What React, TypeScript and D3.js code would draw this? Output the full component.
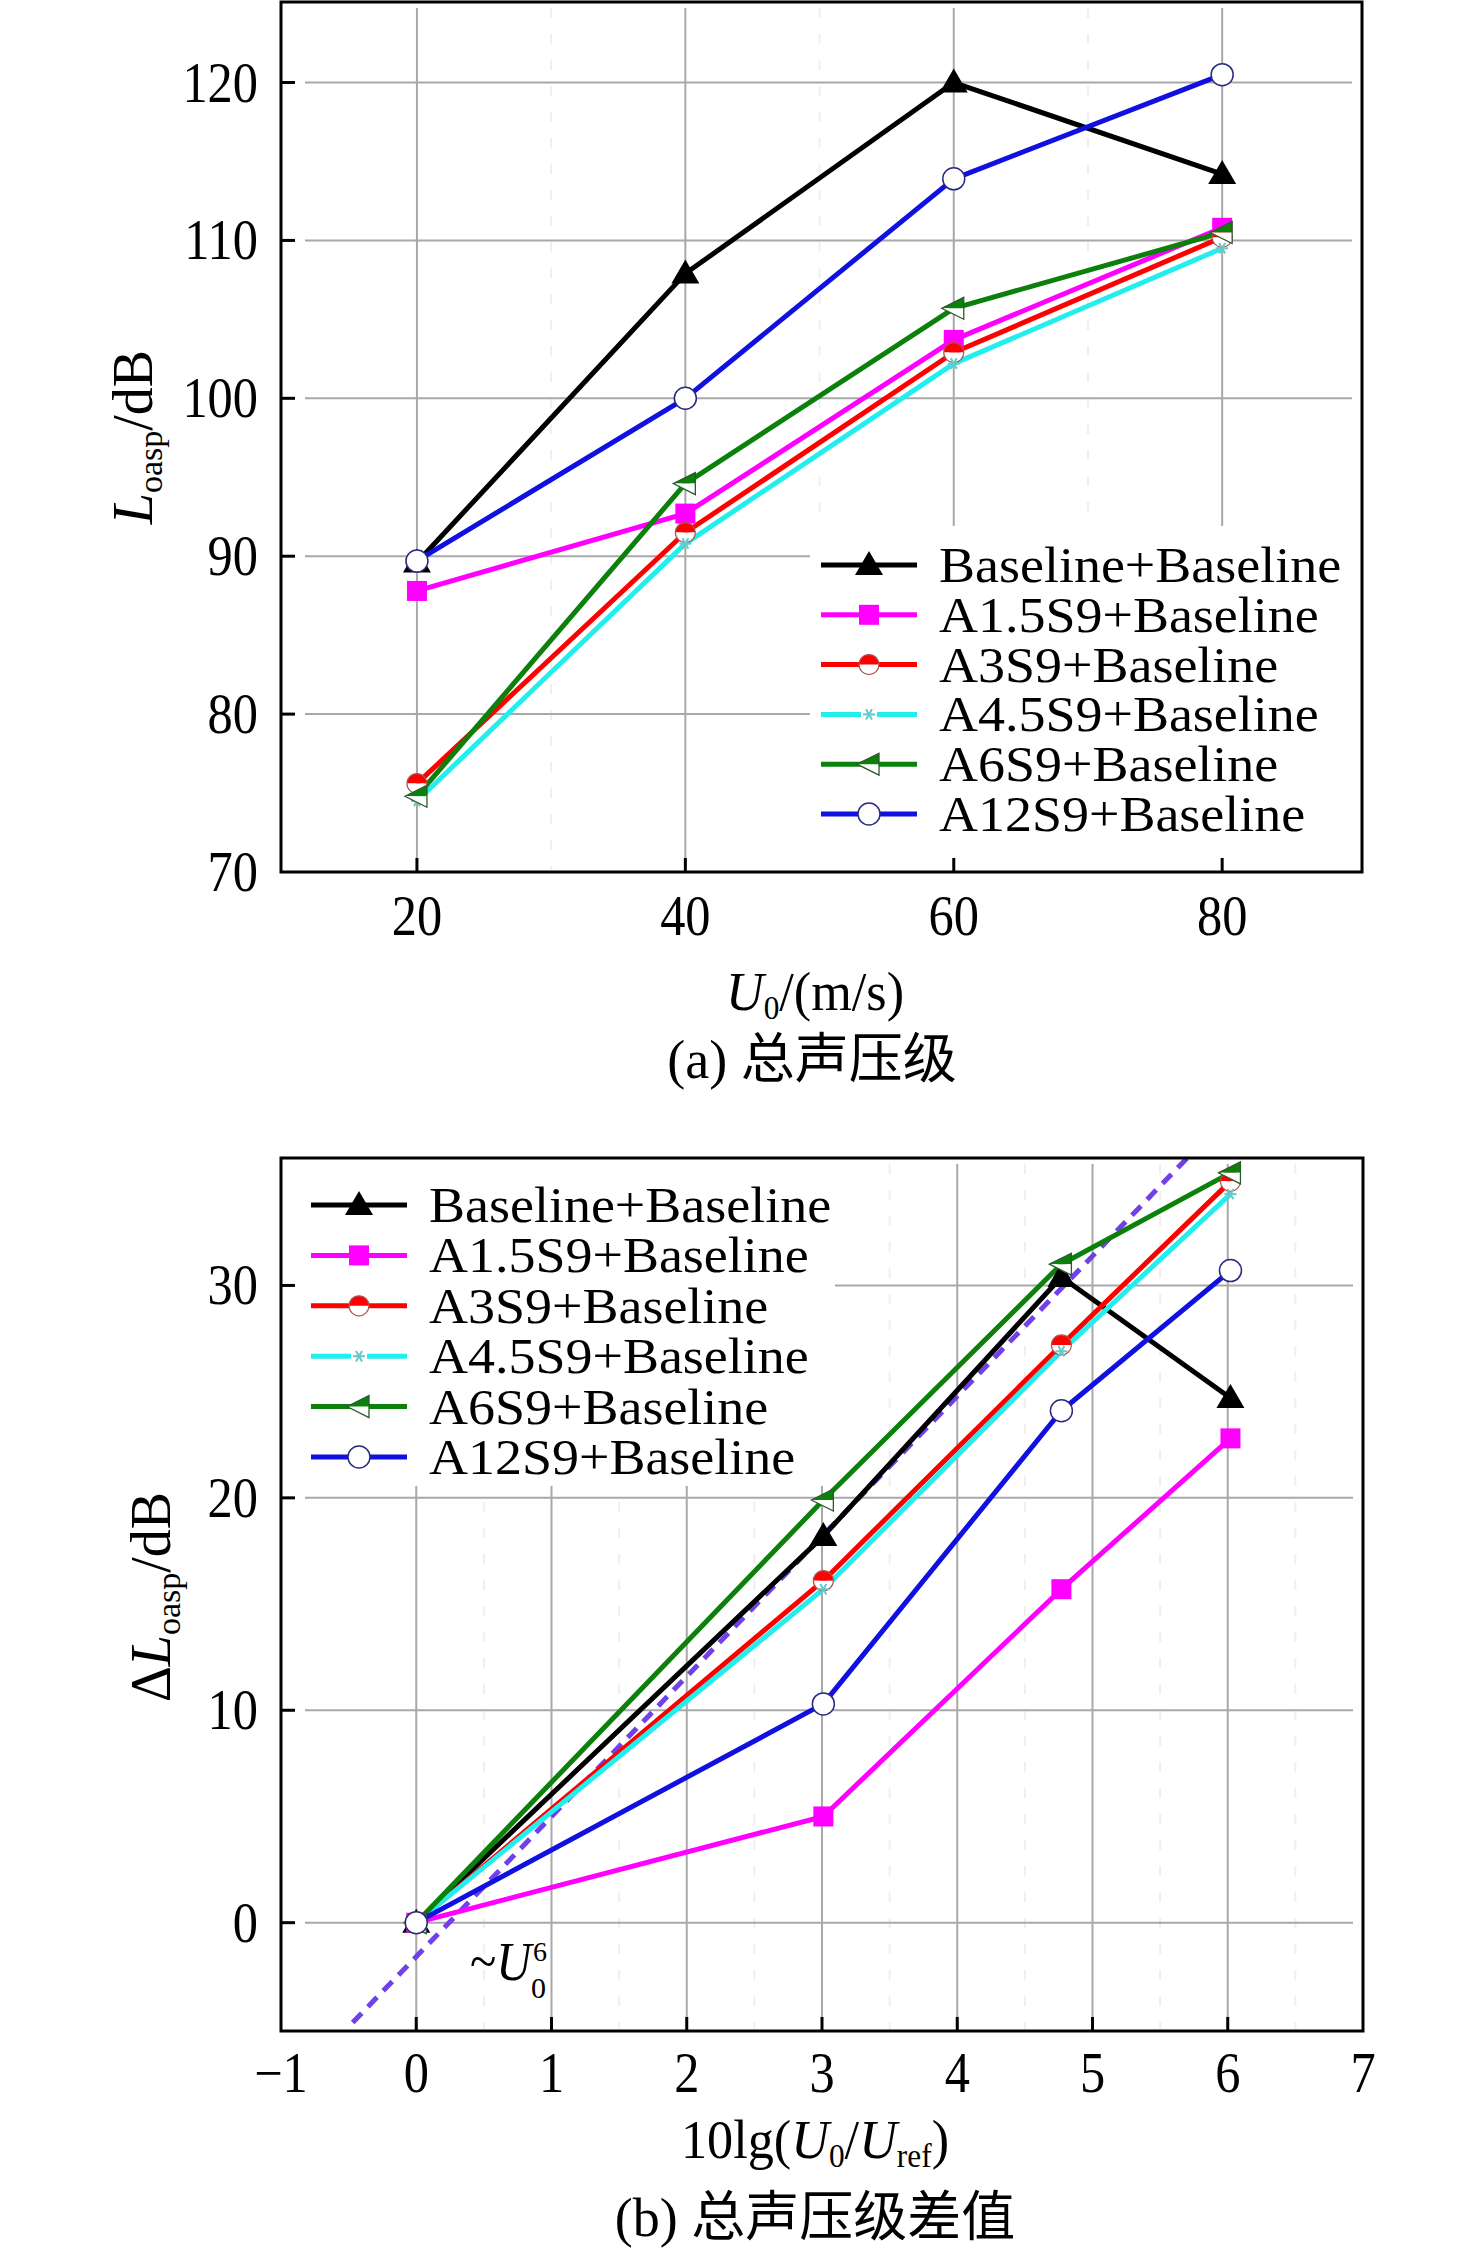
import React from 'react';
import * as d3 from 'd3';

// ---------- data ----------
const seriesNames = [
  'Baseline+Baseline',
  'A1.5S9+Baseline',
  'A3S9+Baseline',
  'A4.5S9+Baseline',
  'A6S9+Baseline',
  'A12S9+Baseline',
];
const seriesColors = ['#000000', '#ff00ff', '#ff0000', '#22eeee', '#0b800b', '#1010e0'];
const markerKinds = ['triangle', 'square', 'halfCircle', 'star', 'leftTriangle', 'circle'];

// panel (a): overall sound pressure level vs speed
const speeds = [20, 40, 60, 80];
const levelBaseline = [89.6, 107.9, 120.0, 114.2];
const levelA15 = [87.8, 92.7, 103.7, 110.8];
const levelA3 = [75.6, 91.5, 102.9, 110.2];
const levelA45 = [74.5, 90.8, 102.2, 109.5];
const levelA6 = [74.8, 94.6, 105.7, 110.5];
const levelA12 = [89.7, 100.0, 113.9, 120.5];
const levelSeries = [levelBaseline, levelA15, levelA3, levelA45, levelA6, levelA12];

// panel (b): level difference vs 10lg(U0/Uref)
const logSpeed = [0, 3.01, 4.77, 6.02];
const deltaBaseline = [0, 18.2, 30.4, 24.7];
const deltaA15 = [0, 5.0, 15.7, 22.8];
const deltaA3 = [0, 16.1, 27.2, 34.9];
const deltaA45 = [0, 15.7, 26.9, 34.3];
const deltaA6 = [0, 19.9, 31.0, 35.3];
const deltaA12 = [0, 10.3, 24.1, 30.7];
const deltaSeries = [deltaBaseline, deltaA15, deltaA3, deltaA45, deltaA6, deltaA12];

// ~U0^6 reference line
const u6X = [-0.47, 5.7];
const u6Y = [-4.7, 36.0];

// ticks
const xTicksA = [20, 40, 60, 80];
const yTicksA = [70, 80, 90, 100, 110, 120];
const xMinorA = [30, 50, 70];
const xTicksB = [-1, 0, 1, 2, 3, 4, 5, 6, 7];
const yTicksB = [0, 10, 20, 30];
const xMinorB = [0.5, 1.5, 2.5, 3.5, 4.5, 5.5, 6.5];

const SERIF = "'Liberation Serif', 'Times New Roman', serif";
const CAPFONT = "'Liberation Serif', 'Noto Sans CJK SC', serif";

function Marker({ kind, x, y, color }: { kind: string; x: number; y: number; color: string }) {
  switch (kind) {
    case 'triangle':
      return <path d={`M${x},${y - 14} L${x + 14},${y + 10} L${x - 14},${y + 10} Z`} fill={color} />;
    case 'square':
      return <rect x={x - 10} y={y - 10} width={20} height={20} fill={color} />;
    case 'halfCircle':
      return (
        <g>
          <path d={`M${x - 10},${y} A10,10 0 0 1 ${x + 10},${y} Z`} fill={color} />
          <path d={`M${x - 10},${y} A10,10 0 0 0 ${x + 10},${y} Z`} fill="#ffffff" />
          <circle cx={x} cy={y} r={10} fill="none" stroke="#b05050" strokeWidth={1.2} />
        </g>
      );
    case 'star': {
      const r = 6;
      return (
        <g stroke="#66c8c8" strokeWidth={2}>
          <line x1={x - r} y1={y} x2={x + r} y2={y} />
          <line x1={x - r * 0.5} y1={y - r * 0.87} x2={x + r * 0.5} y2={y + r * 0.87} />
          <line x1={x - r * 0.5} y1={y + r * 0.87} x2={x + r * 0.5} y2={y - r * 0.87} />
        </g>
      );
    }
    case 'leftTriangle':
      return (
        <g>
          <path d={`M${x - 12},${y} L${x + 10},${y - 11} L${x + 10},${y} Z`} fill={color} />
          <path d={`M${x - 12},${y} L${x + 10},${y + 11} L${x + 10},${y} Z`} fill="#ffffff" />
          <path d={`M${x - 12},${y} L${x + 10},${y - 11} L${x + 10},${y + 11} Z`} fill="none" stroke="#2d5a2d" strokeWidth={1.3} />
        </g>
      );
    case 'circle':
    default:
      return <circle cx={x} cy={y} r={11} fill="#ffffff" stroke="#2a2a80" strokeWidth={1.5} />;
  }
}

function Legend({ x0, y0, step }: { x0: number; y0: number; step: number }) {
  return (
    <g>
      {seriesNames.map((name, i) => {
        const cy = y0 + i * step;
        const c = seriesColors[i];
        const mid = x0 + 48;
        return (
          <g key={name}>
            {markerKinds[i] === 'star' ? (
              <g stroke={c} strokeWidth={5}>
                <line x1={x0} y1={cy} x2={x0 + 40} y2={cy} />
                <line x1={x0 + 56} y1={cy} x2={x0 + 96} y2={cy} />
              </g>
            ) : (
              <line x1={x0} y1={cy} x2={x0 + 96} y2={cy} stroke={c} strokeWidth={5} />
            )}
            <Marker kind={markerKinds[i]} x={mid} y={cy} color={c} />
            <text
              transform={`translate(${x0 + 118},${cy + 17}) scale(1.08,1)`}
              fontFamily={SERIF}
              fontSize={50}
              fill="#000"
            >
              {name}
            </text>
          </g>
        );
      })}
    </g>
  );
}

function Panel({
  xs,
  ys,
  xTicks,
  yTicks,
  xMinor,
  xVals,
  series,
  gridY,
  xLabelY,
  legend,
  fmtX,
}: any) {
  const [x0, x1] = xs.range();
  const [y0, y1] = ys.range();
  const line = d3
    .line<[number, number]>()
    .x((d) => xs(d[0]))
    .y((d) => ys(d[1]));
  return (
    <g>
      {xMinor.map((v: number) => (
        <line key={'mx' + v} x1={xs(v)} x2={xs(v)} y1={y1 + 6} y2={y0 - 2} stroke="#efefef" strokeWidth={2} strokeDasharray="10 16" />
      ))}
      {xTicks
        .filter((v: number) => xs(v) > x0 + 5 && xs(v) < x1 - 5)
        .map((v: number) => (
          <line key={'gx' + v} x1={xs(v)} x2={xs(v)} y1={y1 + 6} y2={y0 - 2} stroke="#a8a8a8" strokeWidth={2} />
        ))}
      {gridY.map((v: number) => (
        <line key={'gy' + v} x1={x0 + 24} x2={x1 - 10} y1={ys(v)} y2={ys(v)} stroke="#a8a8a8" strokeWidth={2} />
      ))}
      <rect x={legend.bx} y={legend.by} width={legend.bw} height={legend.bh} fill="#ffffff" />
      <Legend x0={legend.lx} y0={legend.ly} step={legend.step} />
      {legend.extra}
      {series.map((vals: number[], i: number) => (
        <path
          key={'l' + i}
          d={line(xVals.map((x: number, j: number) => [x, vals[j]] as [number, number])) || ''}
          fill="none"
          stroke={seriesColors[i]}
          strokeWidth={5}
          strokeLinejoin="round"
        />
      ))}
      {series.map((vals: number[], i: number) =>
        xVals.map((x: number, j: number) => (
          <Marker key={'m' + i + '-' + j} kind={markerKinds[i]} x={xs(x)} y={ys(vals[j])} color={seriesColors[i]} />
        ))
      )}
      <rect x={x0} y={y1} width={x1 - x0} height={y0 - y1} fill="none" stroke="#000" strokeWidth={3} />
      {xTicks
        .filter((v: number) => xs(v) > x0 + 5 && xs(v) < x1 - 5)
        .map((v: number) => (
          <line key={'tx' + v} x1={xs(v)} x2={xs(v)} y1={y0} y2={y0 - 14} stroke="#000" strokeWidth={3} />
        ))}
      {yTicks
        .filter((v: number) => ys(v) < y0 - 5 && ys(v) > y1 + 5)
        .map((v: number) => (
          <line key={'ty' + v} x1={x0} x2={x0 + 14} y1={ys(v)} y2={ys(v)} stroke="#000" strokeWidth={3} />
        ))}
      {xTicks.map((v: number) => (
        <text
          key={'lx' + v}
          transform={`translate(${xs(v)},${xLabelY}) scale(0.9,1)`}
          textAnchor="middle"
          fontFamily={SERIF}
          fontSize={56}
        >
          {fmtX(v)}
        </text>
      ))}
      {yTicks.map((v: number) => (
        <text
          key={'ly' + v}
          transform={`translate(${x0 - 23},${ys(v) + 19}) scale(0.9,1)`}
          textAnchor="end"
          fontFamily={SERIF}
          fontSize={56}
        >
          {v}
        </text>
      ))}
    </g>
  );
}

export default function App() {
  const xA = d3.scaleLinear().domain([9.87, 90.42]).range([281, 1362]);
  const yA = d3.scaleLinear().domain([70, 125.1]).range([872, 2]);
  const xB = d3.scaleLinear().domain([-1, 7]).range([281, 1363]);
  const yB = d3.scaleLinear().domain([-5.1, 36]).range([2031, 1158]);

  const u6Path = d3.line<[number, number]>().x((d) => xB(d[0])).y((d) => yB(d[1]))(
    u6X.map((x, i) => [x, u6Y[i]] as [number, number])
  );

  return (
    <svg
      width={1476}
      height={2256}
      viewBox="0 0 1476 2256"
      style={{ position: 'absolute', left: 0, top: 0, background: '#ffffff' }}
    >
      <rect x={0} y={0} width={1476} height={2256} fill="#ffffff" />

      {/* ---------- panel (a) ---------- */}
      <Panel
        xs={xA}
        ys={yA}
        xTicks={xTicksA}
        yTicks={yTicksA}
        xMinor={xMinorA}
        xVals={speeds}
        series={levelSeries}
        gridY={[80, 90, 100, 110, 120]}
        xLabelY={935}
        fmtX={(v: number) => String(v)}
        legend={{ bx: 810, by: 526, bw: 550, bh: 344, lx: 821, ly: 565, step: 49.8, extra: null }}
      />
      <text transform="translate(152,437) rotate(-90)" textAnchor="middle" fontFamily={SERIF} fontSize={56}>
        <tspan fontStyle="italic">L</tspan>
        <tspan fontSize={34} dy={10}>oasp</tspan>
        <tspan dy={-10}>/dB</tspan>
      </text>
      <text transform="translate(815,1010) scale(0.95,1)" textAnchor="middle" fontFamily={SERIF} fontSize={55}>
        <tspan fontStyle="italic">U</tspan>
        <tspan fontSize={33} dy={9}>0</tspan>
        <tspan dy={-9}>/(m/s)</tspan>
      </text>
      <text x={812} y={1078} textAnchor="middle" fontFamily={CAPFONT} fontSize={54}>
        (a) 总声压级
      </text>

      {/* ---------- panel (b) ---------- */}
      <Panel
        xs={xB}
        ys={yB}
        xTicks={xTicksB}
        yTicks={yTicksB}
        xMinor={xMinorB}
        xVals={logSpeed}
        series={deltaSeries}
        gridY={[0, 10, 20, 30]}
        xLabelY={2092}
        fmtX={(v: number) => (v < 0 ? '\u2212' + Math.abs(v) : String(v))}
        legend={{
          bx: 283,
          by: 1160,
          bw: 552,
          bh: 326,
          lx: 311,
          ly: 1205,
          step: 50.4,
          extra: (
            <path d={u6Path || ''} fill="none" stroke="#7040e8" strokeWidth={5} strokeDasharray="13 9" />
          ),
        }}
      />
      <text transform="translate(170,1597) rotate(-90)" textAnchor="middle" fontFamily={SERIF} fontSize={56}>
        <tspan>Δ</tspan>
        <tspan fontStyle="italic">L</tspan>
        <tspan fontSize={34} dy={10}>oasp</tspan>
        <tspan dy={-10}>/dB</tspan>
      </text>
      <text transform="translate(815,2158) scale(0.95,1)" textAnchor="middle" fontFamily={SERIF} fontSize={55}>
        <tspan>10lg(</tspan>
        <tspan fontStyle="italic">U</tspan>
        <tspan fontSize={33} dy={9}>0</tspan>
        <tspan dy={-9}>/</tspan>
        <tspan fontStyle="italic">U</tspan>
        <tspan fontSize={33} dy={9}>ref</tspan>
        <tspan dy={-9}>)</tspan>
      </text>
      <text x={815} y={2236} textAnchor="middle" fontFamily={CAPFONT} fontSize={54}>
        (b) 总声压级差值
      </text>
      {/* ~U0^6 annotation */}
      <text transform="translate(470,1980) scale(0.9,1)" fontFamily={SERIF} fontSize={54}>
        <tspan>~</tspan>
        <tspan fontStyle="italic">U</tspan>
      </text>
      <text x={533} y={1961} fontFamily={SERIF} fontSize={28}>6</text>
      <text x={531} y={1998} fontFamily={SERIF} fontSize={30}>0</text>
    </svg>
  );
}
